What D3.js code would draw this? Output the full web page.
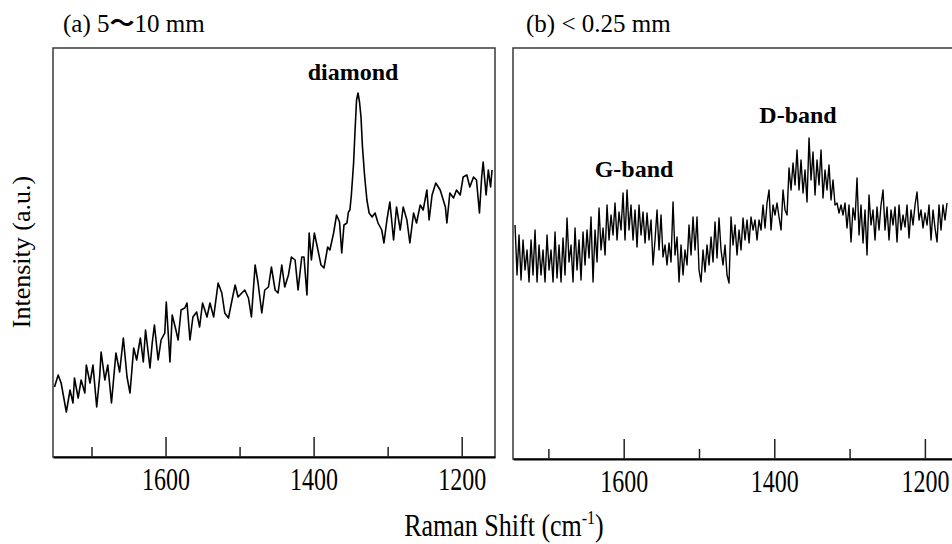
<!DOCTYPE html>
<html>
<head>
<meta charset="utf-8">
<script src="https://cdn.jsdelivr.net/npm/d3@7.9.0/dist/d3.min.js"></script>
<style>
  html, body { margin: 0; padding: 0; background: #fff; overflow: hidden; }
  svg { display: block; }
  text { font-family: "Liberation Serif", "Times New Roman", serif; fill: #000; }
</style>
</head>
<body>
<svg id="chart" width="952" height="544"></svg>
<script>
// (a) 5~10 mm : Raman shift (cm-1) and intensity (a.u.)
const shiftA = [
  1750, 1745, 1741, 1734, 1729, 1725, 1723, 1718, 1714, 1709, 1707, 1702, 1698, 1693, 1689, 1687,
  1682, 1678, 1673, 1667, 1662, 1657, 1652, 1648, 1643, 1639, 1634, 1630, 1627, 1621, 1618, 1615,
  1610, 1606, 1601, 1599, 1594, 1591, 1586, 1583, 1579, 1574, 1571, 1567, 1563, 1558, 1554, 1550,
  1544, 1540, 1535, 1529, 1524, 1520, 1515, 1511, 1506, 1502, 1497, 1493, 1488, 1484, 1479, 1475,
  1470, 1466, 1461, 1457, 1452, 1448, 1443, 1439, 1434, 1430, 1425, 1421, 1416, 1413, 1409, 1406,
  1403, 1399, 1395, 1390, 1386, 1381, 1378, 1373, 1369, 1365, 1362, 1359, 1355, 1353, 1351, 1349,
  1346, 1344, 1342, 1340, 1338, 1336, 1334, 1331, 1328, 1325, 1321, 1317, 1313, 1308, 1305, 1301,
  1297, 1292, 1288, 1283, 1279, 1274, 1270, 1265, 1261, 1256, 1252, 1247, 1244, 1240, 1235, 1229,
  1222, 1220, 1216, 1211, 1207, 1202, 1198, 1193, 1189, 1184, 1180, 1176, 1173, 1171, 1167, 1164,
  1161, 1159
];
const intensA = [
  70, 82, 74, 45, 67, 54, 79, 59, 77, 64, 92, 74, 92, 50, 80, 105,
  77, 92, 54, 104, 85, 119, 80, 64, 109, 97, 119, 95, 127, 89, 114, 132,
  97, 117, 124, 155, 95, 142, 127, 117, 147, 149, 154, 117, 140, 145, 130, 154,
  140, 154, 140, 174, 164, 144, 139, 154, 172, 160, 164, 167, 159, 140, 192, 174,
  144, 167, 170, 190, 167, 164, 192, 170, 182, 200, 197, 167, 200, 200, 162, 224,
  197, 224, 210, 192, 189, 210, 207, 224, 242, 235, 204, 232, 234, 245, 247, 262,
  294, 327, 357, 364, 355, 340, 310, 280, 257, 244, 240, 244, 234, 227, 214, 237,
  255, 217, 250, 227, 250, 237, 214, 244, 234, 252, 247, 267, 237, 262, 274, 267,
  250, 234, 264, 259, 267, 262, 280, 282, 270, 280, 277, 244, 280, 295, 262, 287,
  270, 287
];

// (b) < 0.25 mm : sampled from 1744.3 cm-1 downward in 2.656 cm-1 steps
const startB = 1744.3;
const stepB = 2.656;
const intensB = [
  234, 184, 224, 179, 219, 189, 209, 177, 219, 184, 229, 177, 214, 184, 209, 177,
  224, 189, 209, 177, 227, 181, 214, 177, 221, 184, 241, 197, 214, 177, 231, 189,
  219, 179, 227, 194, 229, 201, 242, 177, 229, 197, 251, 209, 231, 204, 254, 219,
  244, 224, 256, 219, 247, 229, 266, 219, 269, 229, 254, 219, 249, 212, 254, 224,
  247, 216, 246, 219, 239, 194, 219, 249, 209, 244, 202, 214, 194, 216, 197, 257,
  204, 222, 177, 214, 184, 209, 194, 234, 204, 242, 209, 242, 189, 177, 209, 187,
  214, 194, 222, 197, 237, 201, 241, 209, 194, 214, 184, 176, 242, 214, 234, 204,
  229, 209, 241, 219, 239, 216, 242, 229, 239, 219, 239, 229, 254, 231, 256, 269,
  229, 254, 244, 256, 242, 229, 269, 249, 244, 291, 269, 296, 274, 309, 269, 299,
  266, 289, 257, 321, 279, 307, 264, 299, 274, 309, 261, 289, 269, 294, 259, 279,
  254, 256, 246, 254, 244, 256, 231, 254, 217, 251, 239, 281, 224, 254, 216, 249,
  204, 264, 234, 249, 219, 252, 229, 254, 269, 229, 252, 219, 249, 234, 252, 217,
  254, 229, 244, 232, 254, 221, 249, 234, 254, 267, 239, 249, 231, 246, 234, 254,
  219, 249, 231, 217, 254, 229, 254, 239, 256
];
const shiftB = intensB.map((_, i) => startB - stepB * i);

const majorTicks = [1600, 1400, 1200];
const minorTicks = [1700, 1500, 1300];

const panels = [
  {
    label: "(a) 5", wave: "\u301C", rest: "10 mm", titleX: 63,
    left: 53, right: 495, top: 48, bottom: 457,
    domain: [1752, 1155], lineWidth: 1.6,
    points: shiftA.map((s, i) => [s, intensA[i]]),
    notes: [{ text: "diamond", x: 353, y: 80 }]
  },
  {
    label: "(b) < 0.25 mm", wave: "", rest: "", titleX: 526,
    left: 513, right: 955, top: 48, bottom: 459,
    domain: [1747, 1160], lineWidth: 1.4,
    points: shiftB.map((s, i) => [s, intensB[i]]),
    notes: [{ text: "D-band", x: 798, y: 123 }, { text: "G-band", x: 634, y: 177 }]
  }
];

const svg = d3.select("#chart");

panels.forEach(p => {
  const x = d3.scaleLinear().domain(p.domain).range([p.left, p.right]);
  const y = d3.scaleLinear().domain([0, p.bottom - p.top]).range([p.bottom, p.top]);
  const g = svg.append("g");

  // frame
  g.append("rect")
    .attr("x", p.left).attr("y", p.top)
    .attr("width", p.right - p.left).attr("height", p.bottom - p.top)
    .attr("fill", "none").attr("stroke", "#3a3a3a").attr("stroke-width", 1.5);

  // trace
  const line = d3.line().x(d => x(d[0])).y(d => y(d[1]));
  g.append("path")
    .datum(p.points)
    .attr("d", line)
    .attr("fill", "none")
    .attr("stroke", "#000")
    .attr("stroke-width", p.lineWidth)
    .attr("stroke-linejoin", "round");

  // ticks point up into the plot
  const major = g.append("g")
    .attr("transform", `translate(0,${p.bottom})`)
    .call(d3.axisBottom(x).tickValues(majorTicks).tickSize(-20).tickSizeOuter(0)
      .tickFormat(d3.format("d")));
  major.select(".domain").attr("stroke", "#000").attr("stroke-width", 2.2);
  major.selectAll(".tick line").attr("stroke", "#222").attr("stroke-width", 1.5);
  major.selectAll(".tick text")
    .attr("y", 0).attr("dy", null)
    .attr("transform", "translate(0,33) scale(1,1.3)")
    .attr("font-family", "Liberation Serif")
    .attr("font-size", 24)
    .attr("fill", "#000");

  const minor = g.append("g")
    .attr("transform", `translate(0,${p.bottom})`)
    .call(d3.axisBottom(x).tickValues(minorTicks).tickSize(-10).tickFormat(""));
  minor.select(".domain").remove();
  minor.selectAll(".tick line").attr("stroke", "#222").attr("stroke-width", 1.5);

  // panel title
  const t = svg.append("text")
    .attr("x", p.titleX).attr("y", 32)
    .attr("font-size", 25);
  t.append("tspan").text(p.label);
  if (p.wave) {
    t.append("tspan")
      .attr("font-family", "Noto Sans CJK JP")
      .attr("font-weight", "bold")
      .text(p.wave);
    t.append("tspan").text(p.rest);
  }

  // peak labels
  g.selectAll(".note")
    .data(p.notes)
    .enter()
    .append("text")
    .attr("class", "note")
    .attr("x", d => d.x).attr("y", d => d.y)
    .attr("text-anchor", "middle")
    .attr("font-size", 24)
    .attr("font-weight", "bold")
    .text(d => d.text);
});

// axis titles
const xTitle = svg.append("text")
  .attr("transform", "translate(504,536) scale(1,1.2)")
  .attr("text-anchor", "middle")
  .attr("font-size", 26);
xTitle.append("tspan").text("Raman Shift (cm");
xTitle.append("tspan").attr("font-size", 16).attr("dy", -10).text("-1");
xTitle.append("tspan").attr("dy", 10).text(")");

svg.append("text")
  .attr("transform", "translate(30,252) rotate(-90)")
  .attr("text-anchor", "middle")
  .attr("font-size", 26)
  .text("Intensity (a.u.)");
</script>
</body>
</html>
